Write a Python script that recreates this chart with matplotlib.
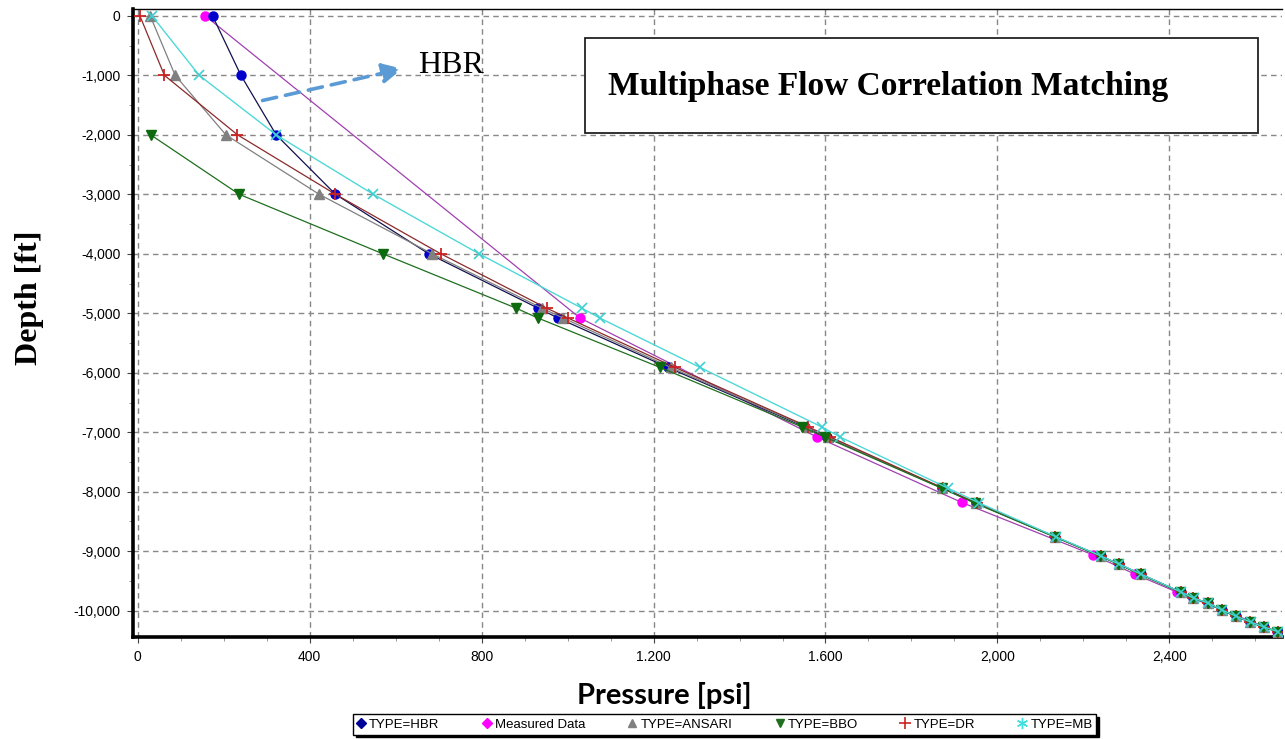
import matplotlib
matplotlib.use("Agg")
import matplotlib.pyplot as plt
from matplotlib.lines import Line2D
from matplotlib.patches import Rectangle
from matplotlib.ticker import MultipleLocator

# ---- donnees ----
depth_model = [0, -1000, -2000, -3000, -4000, -4913, -5080, -5910, -6910, -7080,
               -7940, -8190, -8760, -9080, -9215, -9385, -9685, -9790, -9870,
               -9990, -10090, -10190, -10275, -10350]

p_hbr = [174, 240, 322, 460, 677, 931, 978, 1233, 1552, 1603,
         1872, 1950, 2135, 2240, 2282, 2333, 2426, 2456, 2490, 2522, 2554, 2588, 2620, 2652]
p_ansari = [29, 87, 205, 422, 685, 940, 990, 1240, 1556, 1606,
            1872, 1950, 2135, 2240, 2282, 2333, 2426, 2456, 2490, 2522, 2554, 2588, 2620, 2652]
p_dr = [5, 62, 232, 460, 705, 951, 1001, 1250, 1560, 1611,
        1874, 1952, 2135, 2240, 2282, 2333, 2426, 2456, 2490, 2522, 2554, 2588, 2620, 2652]
p_mb = [33, 143, 322, 548, 794, 1033, 1075, 1308, 1591, 1634,
        1885, 1958, 2137, 2241, 2283, 2334, 2427, 2457, 2491, 2523, 2555, 2589, 2621, 2652]

depth_bbo = [-2000, -3000, -4000, -4913, -5080, -5910, -6910, -7080,
             -7940, -8190, -8760, -9080, -9215, -9385, -9685, -9790, -9870,
             -9990, -10090, -10190, -10275, -10350]
p_bbo = [30, 236, 570, 880, 931, 1215, 1545, 1598,
         1870, 1947, 2133, 2238, 2280, 2331, 2424, 2454, 2489, 2521, 2552, 2587, 2618, 2650]

depth_meas = [0, -5080, -7080, -8180, -9060, -9385, -9685, -10350]
p_meas = [157, 1029, 1580, 1917, 2222, 2320, 2417, 2650]

x_ticks = [0, 400, 800, 1200, 1600, 2000, 2400]
x_labels = ['0', '400', '800', '1.200', '1.600', '2,000', '2,400']
y_ticks = [0, -1000, -2000, -3000, -4000, -5000, -6000, -7000, -8000, -9000, -10000]
y_labels = ['0', '-1,000', '-2,000', '-3,000', '-4,000', '-5,000', '-6,000',
            '-7,000', '-8,000', '-9,000', '-10,000']

legend_names = ['TYPE=HBR', 'Measured Data', 'TYPE=ANSARI', 'TYPE=BBO', 'TYPE=DR', 'TYPE=MB']

# ---- figure ----
plt.rcParams['font.family'] = ['Liberation Sans', 'DejaVu Sans']
fig = plt.figure(figsize=(12.85, 7.39), dpi=100, facecolor='white')
ax = fig.add_axes([0.1035, 0.138, 0.8945, 0.8497])

ax.plot(p_meas, depth_meas, color='#A040B0', lw=0.9, marker='o', ms=6.5,
        mfc='#FF00FF', mec='#FF00FF', zorder=3)
ax.plot(p_hbr, depth_model, color='#101050', lw=0.9, marker='o', ms=6.5,
        mfc='#0000CC', mec='#0000CC', zorder=4)
ax.plot(p_ansari, depth_model, color='#808080', lw=0.9, marker='^', ms=7.5,
        mfc='#808080', mec='#808080', zorder=4)
ax.plot(p_dr, depth_model, color='#8B2A2A', lw=0.9, marker='+', ms=9, mew=1.3,
        mec='#CC2222', zorder=5)
ax.plot(p_bbo, depth_bbo, color='#1F6F1F', lw=0.9, marker='v', ms=7.5,
        mfc='#0E6A0E', mec='#0E6A0E', zorder=5)
ax.plot(p_mb, depth_model, color='#4FD8D8', lw=1.0, marker='x', ms=7.5, mew=1.2,
        mec='#40D0D0', zorder=6)

ax.set_xlim(-11, 2663)
ax.set_ylim(-10442, 113)
ax.set_xticks(x_ticks)
ax.set_xticklabels(x_labels)
ax.set_yticks(y_ticks)
ax.set_yticklabels(y_labels)
ax.xaxis.set_minor_locator(MultipleLocator(100))
ax.yaxis.set_minor_locator(MultipleLocator(500))
ax.tick_params(axis='both', which='major', labelsize=10, length=4, width=0.8,
               color='#444444', pad=5)
ax.tick_params(axis='both', which='minor', length=3, width=0.6, color='#888888')
ax.grid(True, which='major', linestyle=(0, (4, 3)), color='#888888', linewidth=1.0)

ax.spines['left'].set_linewidth(2.6)
ax.spines['bottom'].set_linewidth(2.6)
ax.spines['top'].set_linewidth(1.0)
ax.spines['right'].set_visible(False)

ax.set_ylabel('Depth [ft]', family='Liberation Serif', fontweight='bold', fontsize=23)
ax.yaxis.set_label_coords(-0.077, 0.54)
ax.set_xlabel('Pressure [psi]', family='Lato', fontweight='bold', fontsize=21)
ax.xaxis.set_label_coords(0.462, -0.071)

# fleche HBR
ax.annotate('', xy=(622, -879), xytext=(284, -1434),
            arrowprops=dict(arrowstyle='-|>', color='#5B9BD5', lw=2.6,
                            linestyle=(0, (4, 2.5)), mutation_scale=30), zorder=7)
ax.text(652, -830, 'HBR', family='Liberation Serif', fontsize=23, va='center', ha='left')

# boite de titre
fig.patches.append(Rectangle((0.4553, 0.82), 0.5237, 0.1286, transform=fig.transFigure,
                             facecolor='white', edgecolor='#222222', lw=1.3, zorder=10))
fig.text(0.473, 0.8823, 'Multiphase Flow Correlation Matching', family='Liberation Serif',
         fontweight='bold', fontsize=24, va='center', ha='left', zorder=11)

# legende
handles = [
    Line2D([], [], ls='none', marker='D', ms=5, color='#000099'),
    Line2D([], [], ls='none', marker='D', ms=5, color='#FF00FF'),
    Line2D([], [], ls='none', marker='^', ms=6, color='#808080'),
    Line2D([], [], ls='none', marker='v', ms=6, color='#1F6F1F'),
    Line2D([], [], ls='none', marker='+', ms=9, mew=1.2, color='#CC2222'),
    Line2D([], [], ls='none', marker=(6, 2, 0), ms=8, mew=1.0, color='#40E0E0'),
]
fig.legend(handles, legend_names, loc='center', bbox_to_anchor=(0.564, 0.0196), ncol=6,
           fontsize=9.5, frameon=True, fancybox=False, edgecolor='black', handlelength=0.6,
           handletextpad=0.3, columnspacing=3.3, borderpad=0.3,
           shadow={'color': 'black', 'alpha': 1, 'ox': 2, 'oy': -2})

fig.savefig('out.png', dpi=100)
